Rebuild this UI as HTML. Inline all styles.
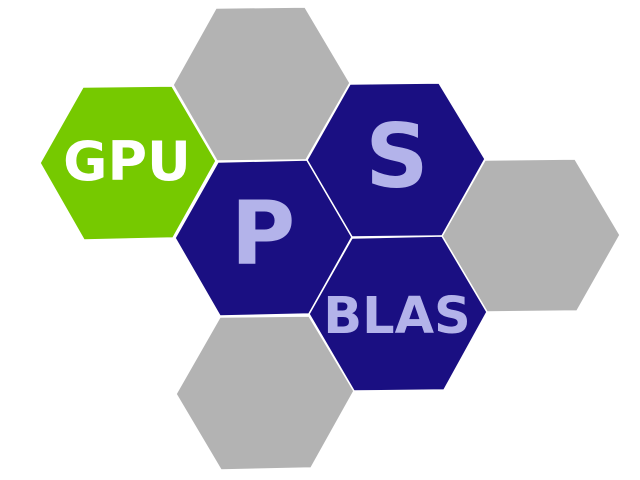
<!DOCTYPE html>
<html><head><meta charset="utf-8"><style>
html,body{margin:0;padding:0;background:#fff;width:640px;height:480px;overflow:hidden}
text{font-family:"DejaVu Sans","Liberation Sans",sans-serif;font-weight:bold;text-anchor:middle}
</style></head><body>
<svg width="640" height="480" viewBox="0 0 640 480">
<g stroke="#ffffff" stroke-width="1.5">
<polygon fill="#b3b3b3" points="173,85 216,8 305,7 350,83 306,160 217,161"/>
<polygon fill="#b3b3b3" points="442,236 485,160 575,159 620,235 577,311 487,312"/>
<polygon fill="#b3b3b3" points="176,394 220,317 309,316 354,391 311,468 221,470"/>
<polygon fill="#76c900" points="40,163 83,87 172,86 216,161 173,238 84,240"/>
<polygon fill="#1a0f82" points="175,238 218,162 307,160 352,237 309,314 220,316"/>
<polygon fill="#1a0f82" points="307,160 350,84 439,83 485,159 442,236 352,237"/>
<polygon fill="#1a0f82" points="309,314 352,238 442,236 487,312 444,390 354,391"/>
</g>
<text x="127" y="180" font-size="54" fill="#ffffff">GPU</text>
<text x="263" y="264" font-size="88" fill="#b3b3ea">P</text>
<text x="397" y="187" font-size="88" fill="#b3b3ea">S</text>
<text x="397" y="333" font-size="51" fill="#b3b3ea">BLAS</text>
</svg>
</body></html>
